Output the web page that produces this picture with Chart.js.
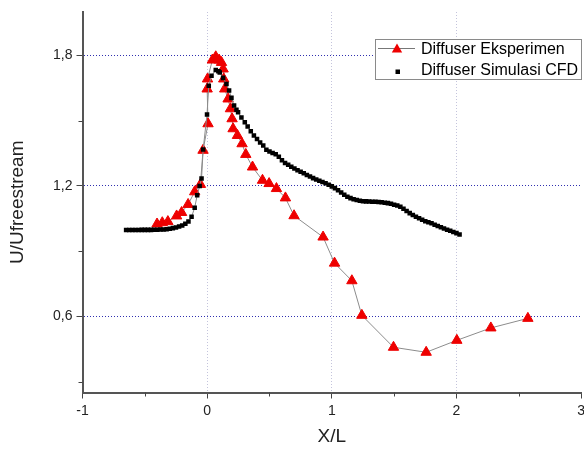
<!DOCTYPE html>
<html>
<head>
<meta charset="utf-8">
<script src="https://cdn.jsdelivr.net/npm/chart.js@4.4.1/dist/chart.umd.min.js"></script>
<style>
html,body{margin:0;background:#fff;overflow:hidden;}
</style>
</head>
<body>
<canvas id="chart" width="589" height="450"></canvas>
<script>
// series names
var seriesNames = ['Diffuser Eksperimen', 'Diffuser Simulasi CFD'];

// experiment (red triangles)
var expX = [-0.402,-0.360,-0.315,-0.245,-0.205,-0.153,-0.100,-0.054,-0.033,0.007,0.000,0.003,0.042,0.069,0.096,0.115,0.128,0.133,0.141,0.168,0.187,0.200,0.208,0.243,0.280,0.310,0.364,0.444,0.497,0.556,0.628,0.697,0.930,1.022,1.161,1.241,1.495,1.757,2.003,2.276,2.573];
var expY = [1.025,1.031,1.036,1.062,1.078,1.115,1.173,1.207,1.364,1.486,1.646,1.692,1.779,1.794,1.779,1.768,1.738,1.692,1.646,1.600,1.555,1.509,1.463,1.432,1.394,1.345,1.287,1.226,1.211,1.188,1.145,1.063,0.965,0.845,0.764,0.605,0.458,0.435,0.490,0.547,0.591];

// CFD simulation (black squares)
var cfdX = [-0.650,-0.625,-0.600,-0.575,-0.550,-0.525,-0.500,-0.475,-0.450,-0.425,-0.400,-0.375,-0.350,-0.325,-0.300,-0.275,-0.250,-0.225,-0.200,-0.175,-0.150,-0.125,-0.100,-0.080,-0.060,-0.045,-0.032,-0.001,0.013,0.035,0.069,0.090,0.101,0.128,0.155,0.176,0.195,0.216,0.235,0.248,0.275,0.302,0.325,0.350,0.375,0.400,0.425,0.450,0.475,0.500,0.525,0.550,0.575,0.600,0.625,0.650,0.675,0.700,0.725,0.750,0.775,0.800,0.825,0.850,0.875,0.900,0.925,0.950,0.975,1.000,1.025,1.050,1.075,1.100,1.125,1.150,1.175,1.200,1.225,1.250,1.275,1.300,1.325,1.350,1.375,1.400,1.425,1.450,1.475,1.500,1.525,1.550,1.575,1.600,1.625,1.650,1.675,1.700,1.725,1.750,1.775,1.800,1.825,1.850,1.875,1.900,1.925,1.950,1.975,2.000,2.025];
var cfdY = [0.997,0.997,0.997,0.997,0.997,0.998,0.998,0.998,0.998,0.999,0.999,1.000,1.000,1.001,1.003,1.006,1.009,1.013,1.018,1.026,1.036,1.058,1.100,1.157,1.200,1.234,1.368,1.529,1.661,1.707,1.733,1.727,1.722,1.697,1.669,1.639,1.605,1.570,1.550,1.539,1.515,1.493,1.473,1.452,1.432,1.416,1.400,1.386,1.366,1.358,1.352,1.346,1.334,1.318,1.306,1.297,1.288,1.280,1.272,1.265,1.258,1.250,1.243,1.236,1.230,1.224,1.218,1.212,1.205,1.198,1.190,1.180,1.170,1.160,1.150,1.144,1.139,1.135,1.132,1.130,1.129,1.128,1.127,1.127,1.126,1.125,1.123,1.121,1.118,1.114,1.110,1.104,1.095,1.085,1.075,1.066,1.058,1.051,1.044,1.038,1.033,1.028,1.022,1.016,1.010,1.004,0.999,0.994,0.988,0.983,0.977];

// ticks
var xMajor = [-1, 0, 1, 2, 3];
var xMinor = [-0.5, 0.5, 1.5, 2.5];
var yMajor = [0.6, 1.2, 1.8];
var yMinor = [0.3, 0.9, 1.5];

function toPoints(xs, ys){
	var pts = [];
	for(var i = 0; i < xs.length; i++){
		pts.push({x: xs[i], y: ys[i]});
	}
	return pts;
}

var fontFam = "'Liberation Sans', Arial, sans-serif";
var red = '#ee0000';

//minor tick marks, shorter than the major ones
var minorTicks = {
	id: 'minorTicks',
	afterDraw: function(chart){
		var ctx = chart.ctx;
		var xs = chart.scales.x, ys = chart.scales.y;
		var area = chart.chartArea;
		ctx.save();
		ctx.strokeStyle = '#444';
		ctx.lineWidth = 1;
		ctx.beginPath();
		xMinor.forEach(function(v){
			var px = Math.round(xs.getPixelForValue(v)) + 0.5;
			ctx.moveTo(px, area.bottom);
			ctx.lineTo(px, area.bottom + 4);
		});
		yMinor.forEach(function(v){
			var py = Math.round(ys.getPixelForValue(v)) + 0.5;
			ctx.moveTo(area.left, py);
			ctx.lineTo(area.left - 4, py);
		});
		ctx.stroke();
		ctx.restore();
	}
};

function drawTriangle(ctx, x, y, r){
	var c = Math.cos(Math.PI / 6) * r;
	ctx.beginPath();
	ctx.moveTo(x, y - r);
	ctx.lineTo(x + c, y + r / 2);
	ctx.lineTo(x - c, y + r / 2);
	ctx.closePath();
	ctx.fill();
}

//legend box inside the plot, top right
var boxLegend = {
	id: 'boxLegend',
	afterDraw: function(chart){
		var ctx = chart.ctx;
		ctx.save();
		ctx.fillStyle = '#fff';
		ctx.fillRect(375, 39, 207, 41);
		ctx.strokeStyle = '#8a8a8a';
		ctx.lineWidth = 1;
		ctx.strokeRect(375.5, 39.5, 206, 40);
		// row 1
		ctx.strokeStyle = '#777';
		ctx.beginPath();
		ctx.moveTo(378, 48.5);
		ctx.lineTo(415, 48.5);
		ctx.stroke();
		ctx.fillStyle = red;
		drawTriangle(ctx, 397, 49.5, 6);
		// row 2
		ctx.fillStyle = '#000';
		ctx.fillRect(395.5, 69.5, 4.5, 4.5);
		ctx.fillStyle = '#000';
		ctx.font = '16px ' + fontFam;
		ctx.textBaseline = 'middle';
		ctx.textAlign = 'left';
		ctx.fillText(seriesNames[0], 421, 50);
		ctx.fillText(seriesNames[1], 421, 71);
		ctx.restore();
	}
};

var ctx = document.getElementById('chart').getContext('2d');
var chart = new Chart(ctx, {
	type: 'scatter',
	data: {
		datasets: [{
			label: seriesNames[1],
			data: toPoints(cfdX, cfdY),
			showLine: true,
			borderColor: '#8c8c8c',
			borderWidth: 1,
			pointStyle: 'rect',
			pointRadius: 3.2,
			pointBackgroundColor: '#000',
			pointBorderColor: '#000',
			pointBorderWidth: 0,
			order: 0
		}, {
			label: seriesNames[0],
			data: toPoints(expX, expY),
			showLine: true,
			borderColor: '#8c8c8c',
			borderWidth: 1,
			pointStyle: 'triangle',
			pointRadius: 6,
			pointBackgroundColor: red,
			pointBorderColor: red,
			pointBorderWidth: 1,
			order: 1
		}]
	},
	options: {
		responsive: false,
		animation: false,
		layout: {padding: {top: 12, right: 0, bottom: 2, left: 6}},
		plugins: {
			legend: {display: false},
			tooltip: {enabled: false}
		},
		scales: {
			x: {
				type: 'linear',
				min: -1,
				max: 3,
				afterBuildTicks: function(s){ s.ticks = xMajor.map(function(v){ return {value: v}; }); },
				afterFit: function(s){ s.height = 55.5; },
				ticks: {
					font: {family: fontFam, size: 14},
					color: '#222',
					padding: 4,
					maxRotation: 0,
					autoSkip: false,
					callback: function(v){ return String(v); }
				},
				grid: {
					color: function(c){
						if(c.tick && (c.tick.value === -1 || c.tick.value === 3)) return 'rgba(0,0,0,0)';
						return '#c4c4dc';
					},
					lineWidth: 1,
					drawTicks: true,
					tickLength: 6,
					tickColor: '#444'
				},
				border: {color: '#555', width: 2, dash: [1, 2]},
				title: {display: true, text: 'X/L', font: {family: fontFam, size: 19}, color: '#222', padding: 0}
			},
			y: {
				type: 'linear',
				min: 0.25,
				max: 2.0,
				afterBuildTicks: function(s){ s.ticks = yMajor.map(function(v){ return {value: v}; }); },
				afterFit: function(s){ s.width = 76.5; s.paddingTop = 0; s.paddingBottom = 0; },
				ticks: {
					font: {family: fontFam, size: 14},
					color: '#222',
					padding: 4,
					callback: function(v){ return v.toFixed(1).replace('.', ','); }
				},
				grid: {
					color: '#3030b0',
					lineWidth: 1,
					drawTicks: true,
					tickLength: 6,
					tickColor: '#444'
				},
				border: {color: '#555', width: 2, dash: [1, 2]},
				title: {display: true, text: 'U/Ufreestream', font: {family: fontFam, size: 19}, color: '#222', padding: 0}
			}
		}
	},
	plugins: [minorTicks, boxLegend]
});
</script>
</body>
</html>
